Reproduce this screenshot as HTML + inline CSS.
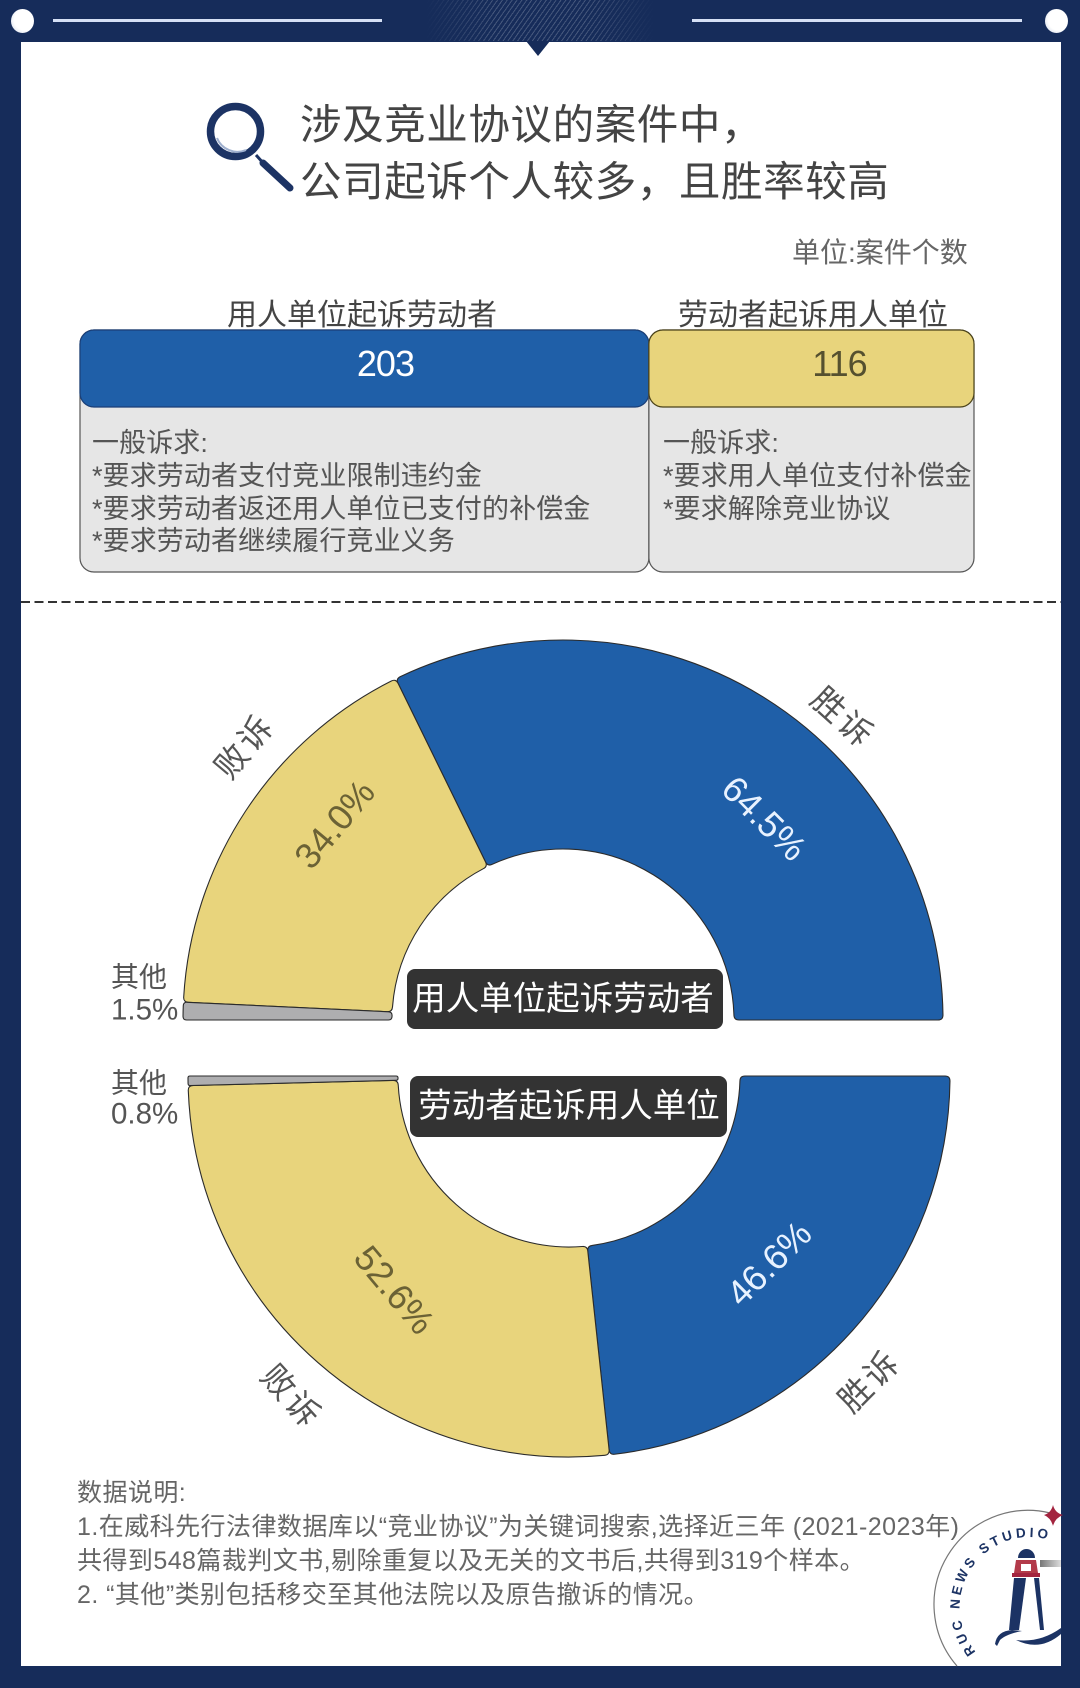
<!DOCTYPE html>
<html lang="zh">
<head>
<meta charset="utf-8">
<title>涉及竞业协议的案件</title>
<style>
html,body{margin:0;padding:0;background:#fff;}
#page{position:relative;width:1080px;height:1688px;overflow:hidden;background:#162c5a;font-family:"Liberation Sans","Noto Sans CJK SC",sans-serif;color:#555;}
#sheet{position:absolute;left:21px;top:42px;width:1040px;height:1624px;background:#fff;}
#chart{position:absolute;left:0;top:0;width:1080px;height:1688px;}
.t{position:absolute;white-space:nowrap;}
#hatch{position:absolute;left:425px;top:0;width:230px;height:41px;background:repeating-linear-gradient(-55deg,rgba(255,255,255,.2) 0 1px,transparent 1px 4px);-webkit-mask-image:linear-gradient(90deg,transparent,#000 30%,#000 70%,transparent);mask-image:linear-gradient(90deg,transparent,#000 30%,#000 70%,transparent);}
.line{position:absolute;top:19px;height:3px;background:#d5e0f5;}
.rivet{position:absolute;top:9px;width:23px;height:24px;border-radius:50%;background:radial-gradient(circle at 60% 45%,#fff 55%,#c9d3e6);}
.title{left:300px;font-size:41.5px;line-height:56px;height:56px;color:#444;letter-spacing:.6px;}
.head{font-size:30px;line-height:36px;color:#444;transform:translateX(-50%);}
.claim{font-size:27px;line-height:32px;color:#555;letter-spacing:.1px;}
.note{left:77px;font-size:25px;line-height:32px;color:#666;letter-spacing:.45px;}
</style>
</head>
<body>
<div id="page">
  <div id="sheet"></div>
  <div id="hatch"></div>
  <div class="rivet" style="left:11px"></div>
  <div class="rivet" style="left:1045px"></div>
  <div class="line" style="left:53px;width:329px"></div>
  <div class="line" style="left:692px;width:330px"></div>

  <svg id="chart" viewBox="0 0 1080 1688" xmlns="http://www.w3.org/2000/svg">
    <polygon points="526,41 550,41 538,56" fill="#162c5a"/>
    <g>
      <circle cx="235.5" cy="131.5" r="25" fill="#fff" stroke="#1c3364" stroke-width="7.5"/>
      <path d="M217 138 A22 22 0 0 0 246 150" fill="none" stroke="#9fb0cf" stroke-width="2"/>
      <line x1="256" y1="155" x2="265" y2="165" stroke="#1c3364" stroke-width="3"/>
      <line x1="263" y1="163" x2="290" y2="188" stroke="#1c3364" stroke-width="7" stroke-linecap="round"/>
    </g>
    <line x1="21" y1="602" x2="1061" y2="602" stroke="#333" stroke-width="2" stroke-dasharray="9 4.5"/>
    <g id="panels"></g>
    <g id="donuts"></g>

    <g>
      <rect x="407" y="969" width="316" height="60" rx="8" fill="#333"/>
      <text x="563" y="1010" text-anchor="middle" font-size="33.5" fill="#fff" font-family="'Liberation Sans','Noto Sans CJK SC',sans-serif">用人单位起诉劳动者</text>
    </g>
    <g>
      <rect x="410" y="1076" width="317" height="61" rx="8" fill="#333"/>
      <text x="569" y="1117" text-anchor="middle" font-size="33.5" fill="#fff" font-family="'Liberation Sans','Noto Sans CJK SC',sans-serif">劳动者起诉用人单位</text>
    </g>

    <g>
      <path d="M957 1666 A94 94 0 0 1 1050 1513" fill="none" stroke="#777" stroke-width="1.2"/>
      <path id="logoArc" d="M976 1652 A70 70 0 0 1 1062 1545" fill="none"/>
      <text font-size="13.5" font-weight="bold" fill="#1c3364" letter-spacing="3.4" font-family="'Liberation Sans',sans-serif"><textPath href="#logoArc">RUC NEWS STUDIO</textPath></text>
      <path d="M1053 1505 Q1055 1513 1063 1515 Q1055 1518 1053 1526 Q1051 1518 1044 1515 Q1051 1513 1053 1505Z" fill="#a3243f"/>
      <path d="M1018 1558 A8.5 9 0 0 1 1035 1558Z" fill="#1c3364"/>
      <path d="M1016 1560 H1036 L1038 1573 H1014Z" fill="#b33a4a"/>
      <rect x="1021" y="1564" width="10" height="7" fill="#fff"/>
      <rect x="1012" y="1573" width="28" height="4" fill="#a3243f"/>
      <path d="M1014 1578 H1026 L1019 1630 H1009Z" fill="#1c3364"/>
      <path d="M1034 1578 H1039 L1044 1630 H1040Z" fill="#1c3364"/>
      <path d="M995 1644 Q997 1631 1012 1630 L1022 1631 Q1006 1634 1000 1640 L997 1646Z" fill="#1c3364"/>
      <path d="M1016 1640 Q1040 1643 1061 1628 L1061 1634 Q1040 1652 1016 1640Z" fill="#1c3364"/>
      <defs><linearGradient id="beamGrad" x1="0" x2="1"><stop offset="0" stop-color="#777"/><stop offset="1" stop-color="#ddd"/></linearGradient></defs>
      <rect x="1040" y="1560" width="21" height="7" fill="url(#beamGrad)"/>
    </g>
  </svg>

  <div class="t title" style="top:97px">涉及竞业协议的案件中，</div>
  <div class="t title" style="top:154px">公司起诉个人较多，且胜率较高</div>
  <div class="t" style="left:792px;top:235px;font-size:28px;line-height:36px;color:#666">单位:案件个数</div>

  <div class="t head" style="left:362px;top:298px">用人单位起诉劳动者</div>
  <div class="t head" style="left:813px;top:298px">劳动者起诉用人单位</div>

  <div class="t claim" style="left:92px;top:427px">一般诉求:</div>
  <div class="t claim" style="left:92px;top:460px">*要求劳动者支付竞业限制违约金</div>
  <div class="t claim" style="left:92px;top:492.5px">*要求劳动者返还用人单位已支付的补偿金</div>
  <div class="t claim" style="left:92px;top:525px">*要求劳动者继续履行竞业义务</div>
  <div class="t claim" style="left:663px;top:427px">一般诉求:</div>
  <div class="t claim" style="left:663px;top:460px">*要求用人单位支付补偿金</div>
  <div class="t claim" style="left:663px;top:492.5px">*要求解除竞业协议</div>

  <div class="t note" style="top:1477px">数据说明:</div>
  <div class="t note" style="top:1511px">1.在威科先行法律数据库以“竞业协议”为关键词搜索,选择近三年 (2021-2023年)</div>
  <div class="t note" style="top:1545px">共得到548篇裁判文书,剔除重复以及无关的文书后,共得到319个样本。</div>
  <div class="t note" style="top:1579px">2. “其他”类别包括移交至其他法院以及原告撤诉的情况。</div>
</div>

<script>
var caseCategories = ['employer-sues', 'employee-sues'];
var caseCounts = [203, 116];
var outcomeNames = ['胜诉', '败诉', '其他'];
var employerSharePct = [64.5, 34.0, 1.5];
var employeeSharePct = [46.6, 52.6, 0.8];

var NS = 'http://www.w3.org/2000/svg';
var FONT = "'Liberation Sans','Noto Sans CJK SC',sans-serif";
function make(tag, parent) {
  var el = document.createElementNS(NS, tag);
  parent.appendChild(el);
  return el;
}

/* ---- case count panels ---- */
function drawPanels() {
  var g = document.getElementById('panels');
  var left = 80, totalWidth = 894, top = 330, barH = 77, fullH = 242;
  var total = caseCounts[0] + caseCounts[1];
  var fills = ['#1f5fa8', '#e8d47c'];
  var strokes = ['#1a3f78', '#4a4218'];
  var textFills = ['#fff', '#55502f'];
  var numberShift = [21, 28];
  var x = left;
  caseCounts.forEach(function (count, i) {
    var w = totalWidth * count / total;
    var body = make('rect', g);
    
    
    body.setAttribute('x', x);
    body.setAttribute('y', top);
    body.setAttribute('width', w);
    body.setAttribute('height', fullH);
    body.setAttribute('rx', 14);
    body.setAttribute('fill', '#e6e6e6');
    body.setAttribute('stroke', '#555');
    body.setAttribute('stroke-width', 1.2);
    var bar = make('rect', g);
    
    
    bar.setAttribute('x', x);
    bar.setAttribute('y', top);
    bar.setAttribute('width', w);
    bar.setAttribute('height', barH);
    bar.setAttribute('rx', 14);
    bar.setAttribute('fill', fills[i]);
    bar.setAttribute('stroke', strokes[i]);
    bar.setAttribute('stroke-width', 1.2);
    var label = make('text', g);
    
    
    label.setAttribute('x', x + w / 2 + numberShift[i]);
    label.setAttribute('y', 376);
    label.setAttribute('text-anchor', 'middle');
    label.setAttribute('font-size', 36);
    label.setAttribute('letter-spacing', -1);
    label.setAttribute('font-family', FONT);
    label.setAttribute('fill', textFills[i]);
    label.textContent = String(count);
    x += w;
  });
}

/* ---- donuts ---- */
function polar(cx, cy, r, deg, dir) {
  var a = deg * Math.PI / 180;
  return [cx + r * Math.cos(a), cy + dir * r * Math.sin(a)];
}
function fmt(p) { return p[0].toFixed(2) + ' ' + p[1].toFixed(2); }
function sectorPath(cx, cy, r0, r1, a0, a1, dir) {
  var spanRad = (a1 - a0) * Math.PI / 180;
  var c = Math.min(5, 0.45 * spanRad * r0);
  var dO = (c / r1) * 180 / Math.PI;
  var dI = (c / r0) * 180 / Math.PI;
  var large = (a1 - a0) > 180 ? 1 : 0;
  var sw = dir > 0 ? 1 : 0;
  var rsw = 1 - sw;
  return 'M' + fmt(polar(cx, cy, r1, a0 + dO, dir)) +
    ' A' + r1 + ' ' + r1 + ' 0 ' + large + ' ' + sw + ' ' + fmt(polar(cx, cy, r1, a1 - dO, dir)) +
    ' Q' + fmt(polar(cx, cy, r1, a1, dir)) + ' ' + fmt(polar(cx, cy, r1 - c, a1, dir)) +
    ' L' + fmt(polar(cx, cy, r0 + c, a1, dir)) +
    ' Q' + fmt(polar(cx, cy, r0, a1, dir)) + ' ' + fmt(polar(cx, cy, r0, a1 - dI, dir)) +
    ' A' + r0 + ' ' + r0 + ' 0 ' + large + ' ' + rsw + ' ' + fmt(polar(cx, cy, r0, a0 + dI, dir)) +
    ' Q' + fmt(polar(cx, cy, r0, a0, dir)) + ' ' + fmt(polar(cx, cy, r0 + c, a0, dir)) +
    ' L' + fmt(polar(cx, cy, r1 - c, a0, dir)) +
    ' Q' + fmt(polar(cx, cy, r1, a0, dir)) + ' ' + fmt(polar(cx, cy, r1, a0 + dO, dir)) + 'Z';
}
function addText(g, name, x, y, size, fill, rot, str, anchor, spacing) {
  var t = make('text', g);
  
  
  t.setAttribute('x', x);
  t.setAttribute('y', y);
  t.setAttribute('font-size', size);
  t.setAttribute('font-family', FONT);
  t.setAttribute('fill', fill);
  t.setAttribute('text-anchor', anchor || 'middle');
  t.setAttribute('dominant-baseline', 'central');
  if (spacing) t.setAttribute('letter-spacing', spacing);
  if (rot) t.setAttribute('transform', 'rotate(' + rot + ' ' + x + ' ' + y + ')');
  t.textContent = str;
  return t;
}
function drawDonut(prefix, values, cfg) {
  var g = make('g', document.getElementById('donuts'));
  
  
  var total = values.reduce(function (s, v) { return s + v; }, 0);
  var fills = ['#1f5fa8', '#e8d47c', '#aeaeb0'];
  var valueFills = ['#e8f2ff', '#6b6235'];
  var start = 0;
  values.forEach(function (v, i) {
    var sweep = v / total * 180;
    var end = start + sweep;
    var p = make('path', g);
    
    
    p.setAttribute('d', sectorPath(cfg.cx, cfg.cy, cfg.r0, cfg.r1, start, end, cfg.dir));
    p.setAttribute('fill', fills[i]);
    p.setAttribute('stroke', '#2b2b2b');
    p.setAttribute('stroke-width', 1.1);
    var mid = (start + end) / 2;
    if (i < 2) {
      var lv = polar(cfg.cx, cfg.cy, cfg.valueR[i], mid + cfg.valueOffset[i], cfg.dir);
      addText(g, prefix + '-value-' + i, lv[0], lv[1], 36, valueFills[i], cfg.valueRot[i], v.toFixed(1) + '%');
      var ln = polar(cfg.cx, cfg.cy, cfg.nameR[i], mid + cfg.nameOffset[i], cfg.dir);
      addText(g, prefix + '-name-' + i, ln[0], ln[1], 33, '#555', cfg.nameRot[i], outcomeNames[i], 'middle', 3);
    } else {
      addText(g, prefix + '-name-' + i, 111, cfg.otherNameY, 28, '#555', 0, outcomeNames[i], 'start');
      addText(g, prefix + '-value-' + i, 111, cfg.otherValueY, 29.5, '#555', 0, v.toFixed(1) + '%', 'start');
    }
    start = end;
  });
}
drawPanels();
drawDonut('employer', employerSharePct, {
  cx: 563, cy: 1020, r0: 171, r1: 380, dir: -1,
  valueR: [285, 301], valueOffset: [-13, -7.3], valueRot: [45, -50],
  nameR: [412, 420], nameOffset: [-10.85, -7.4], nameRot: [42, -50],
  otherNameY: 977, otherValueY: 1010
});
drawDonut('employee', employeeSharePct, {
  cx: 569, cy: 1076, r0: 171, r1: 381, dir: 1,
  valueR: [274, 276], valueOffset: [1.2, -2], valueRot: [-45, 50],
  nameR: [428, 424], nameOffset: [3.5, -0.35], nameRot: [-45, 48],
  otherNameY: 1083, otherValueY: 1114
});
</script>
</body>
</html>
